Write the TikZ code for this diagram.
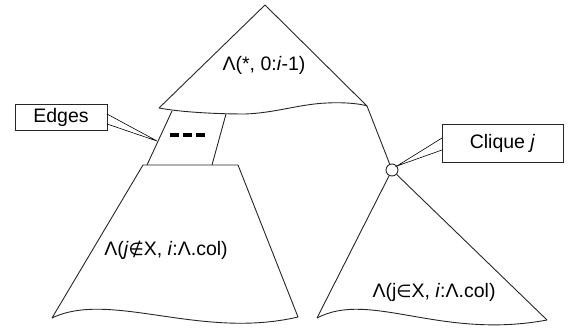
\documentclass[tikz,border=0pt]{standalone}
\usepackage{fontspec}
\setmainfont{Liberation Sans}
\newfontfamily\symfont{DejaVu Sans}
\begin{document}
\begin{tikzpicture}[x=1pt,y=-1pt,
  outline/.style={draw=black!85,line width=0.9pt,line join=round},
  lbl/.style={font=\fontsize{19.5}{23}\selectfont,inner sep=0pt},
  callbox/.style={draw=black!85,line width=0.9pt,fill=white,font=\fontsize{19.5}{23}\selectfont,inner sep=0pt}]
\useasboundingbox (0,0) rectangle (577,336);
% top triangle
\coordinate (ta) at (265,5);
\coordinate (tl) at (159,108);
\coordinate (tr) at (367,106);
\draw[outline] (tl) -- (ta) -- (tr)
  .. controls (362,104) and (345,102) .. (327,103)
  .. controls (300,104) and (275,113) .. (245,114)
  .. controls (215,114) and (180,112) .. (tl);
\node[lbl] (toplabel) at (264,65.5) {Λ(*, 0:\textit{i}-1)};
% edges trapezoid
\coordinate (el1) at (172,111);
\coordinate (el2) at (147,165);
\coordinate (er1) at (226,114);
\coordinate (er2) at (212,165);
\draw[outline] (el1) -- (el2);
\draw[outline] (er1) -- (er2);
\coordinate (d1) at (170,135);
\coordinate (d2) at (205,135);
\draw[line width=3.5pt,dash pattern=on 9pt off 4pt] (d1) -- (d2);
% lower-left trapezoid
\coordinate (ll1) at (143,165);
\coordinate (ll2) at (238,165);
\coordinate (ll3) at (298,317);
\coordinate (ll4) at (52,318);
\draw[outline] (ll1) -- (ll2) -- (ll3)
  .. controls (200,340) and (110,290) .. (ll4) -- cycle;
\node[lbl] (leftlabel) at (166,250) {Λ(\textit{j}{\symfont\fontsize{17.5}{20}\selectfont ∉}X, \textit{i}:Λ.col)};
% clique and lower-right triangle
\node[draw=black!85,line width=0.9pt,circle,minimum size=12pt,inner sep=0pt,fill=white] (clique) at (392,170) {};
\coordinate (rl) at (317,318);
\coordinate (rr) at (547,320);
\draw[outline] (tr) -- (clique);
\draw[outline] (clique) -- (rl);
\draw[outline] (clique) -- (rr);
\draw[outline] (rl) .. controls (370,290) and (440,340) .. (rr);
\node[lbl] (rightlabel) at (434,292) {Λ(j{\symfont\fontsize{17.5}{20}\selectfont ∈}X, \textit{i}:Λ.col)};
% Edges callout
\node[callbox,minimum width=92pt,minimum height=26pt] (edgesbox) at (61,117) {Edges};
\coordinate (ep1) at (107,114);
\coordinate (ep2) at (107,124);
\coordinate (etip) at (157,141);
\draw[line width=0.6pt] (ep1) -- (etip) -- (ep2);
% Clique callout
\node[callbox,minimum width=121pt,minimum height=38pt] (cliquebox) at (502.5,143) {Clique \textit{j}};
\coordinate (cp1) at (442,138);
\coordinate (cp2) at (442,150);
\coordinate (ctip) at (397,166);
\draw[line width=0.6pt] (cp1) -- (ctip) -- (cp2);
\end{tikzpicture}
\end{document}
